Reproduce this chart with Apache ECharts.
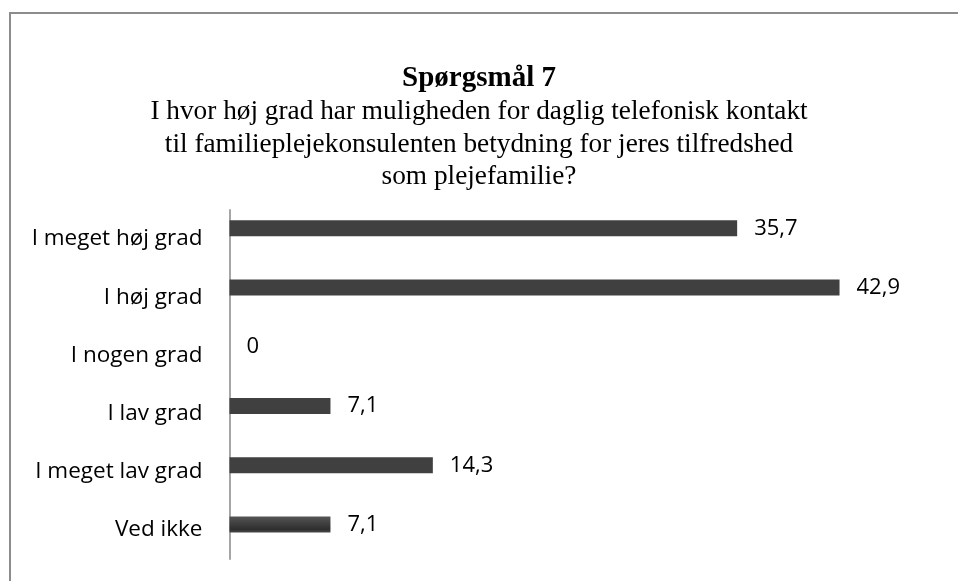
<!DOCTYPE html>
<html>
<head>
<meta charset="utf-8">
<script src="https://cdn.jsdelivr.net/npm/echarts@6/dist/echarts.min.js"></script>
<style>
html,body{margin:0;padding:0;background:#fff;}
#wrap{position:absolute;left:9px;top:12px;width:960px;height:580px;border:2px solid #8c8c8c;box-sizing:border-box;}
#chart{position:absolute;left:0;top:0;width:958px;height:581px;}
</style>
</head>
<body>
<div id="wrap"></div>
<div id="chart"></div>
<script>
const titleText = 'Spørgsmål 7';
const subtitleLines = [
  'I hvor høj grad har muligheden for daglig telefonisk kontakt',
  'til familieplejekonsulenten betydning for jeres tilfredshed',
  'som plejefamilie?'
];
const categories = ['I meget høj grad','I høj grad','I nogen grad','I lav grad','I meget lav grad','Ved ikke'];
const values = [35.7, 42.9, 0, 7.1, 14.3, 7.1];

const flat = '#404040';
const grad = new echarts.graphic.LinearGradient(0, 0, 0, 1, [
  {offset: 0, color: '#555555'}, {offset: 0.8, color: '#2e2e2e'}, {offset: 1, color: '#4a4a4a'}
]);

const chart = echarts.init(document.getElementById('chart'));
chart.setOption({
  animation: false,
  title: {
    text: titleText,
    subtext: subtitleLines.join('\n'),
    left: 'center',
    top: 59,
    itemGap: 3,
    textStyle: {fontFamily: 'Liberation Serif', fontWeight: 'bold', fontSize: 29, color: '#000'},
    subtextStyle: {fontFamily: 'Liberation Serif', fontSize: 27.3, color: '#000', lineHeight: 32.5, align: 'center'}
  },
  grid: [
    {left: 229.5, width: 711, top: 210, height: 349},
    {left: 229.5, width: 711, top: 198.7, height: 355.4}
  ],
  xAxis: [
    {type: 'value', gridIndex: 0, min: 0, max: 50, show: false},
    {type: 'value', gridIndex: 1, min: 0, max: 50, show: false}
  ],
  yAxis: [
    {
      type: 'category', gridIndex: 0, inverse: true, data: categories,
      axisLine: {show: true, lineStyle: {color: '#a6a6a6', width: 2}},
      axisTick: {show: false},
      splitLine: {show: false},
      axisLabel: {fontFamily: 'Open Sans', fontSize: 22.5, color: '#000', margin: 27}
    },
    {
      type: 'category', gridIndex: 1, inverse: true, data: categories, show: false
    }
  ],
  series: [{
    type: 'bar',
    xAxisIndex: 1, yAxisIndex: 1,
    data: values,
    barWidth: 16,
    itemStyle: {color: p => p.dataIndex === categories.length - 1 ? grad : flat},
    label: {
      show: true, position: 'right', distance: 17,
      fontFamily: 'Open Sans', fontSize: 22, color: '#000',
      formatter: p => String(p.value).replace('.', ',')
    }
  }]
});
</script>
</body>
</html>
